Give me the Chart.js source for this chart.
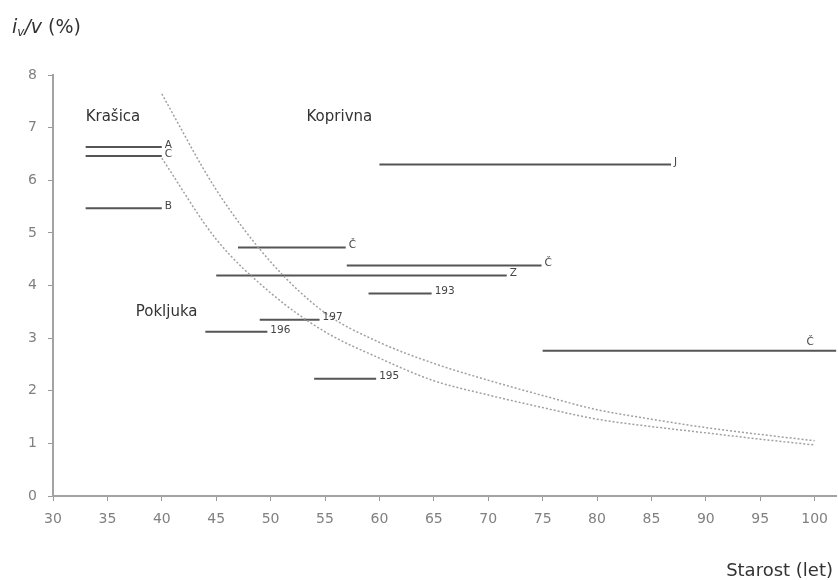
<!DOCTYPE html>
<html><head><meta charset="utf-8">
<script src="https://cdn.jsdelivr.net/npm/chart.js@4.4.1/dist/chart.umd.min.js"></script>
<style>html,body{margin:0;padding:0;background:#fff;} #wrap{width:838px;height:580px;position:relative;}</style>
</head><body><div id="wrap"><canvas id="c" width="838" height="580"></canvas></div>
<script>
// Reference curves (age, i_v/v %)
const curveAges = [40, 45, 50, 55, 60, 65, 70, 75, 80, 85, 90, 95, 100];
const upperCurve = [7.64, 5.82, 4.45, 3.48, 2.92, 2.52, 2.2, 1.91, 1.64, 1.46, 1.3, 1.17, 1.05];
const lowerCurve = [6.42, 4.88, 3.86, 3.12, 2.62, 2.19, 1.92, 1.68, 1.46, 1.32, 1.2, 1.08, 0.97];

// Stand segments (age range and increment)
const segLabels = ['A', 'C', 'B', 'J', 'Č', 'Č', 'Z', '193', 'Č', '197', '196', '195'];
const segStart  = [33, 33, 33, 60, 47, 57, 45, 59, 75, 49, 44, 54];
const segEnd    = [40, 40, 40, 86.8, 56.9, 74.9, 71.7, 64.8, 102, 54.5, 49.7, 59.7];
const segValue  = [6.63, 6.46, 5.47, 6.30, 4.72, 4.38, 4.19, 3.85, 2.76, 3.35, 3.12, 2.23];

// Region names
const regionNames = ['Krašica', 'Koprivna', 'Pokljuka'];
const regionAge   = [33, 53.3, 37.6];
const regionValue = [7.2, 7.2, 3.5];

const xMin = 30, xMax = 102, xStep = 5;
const yMin = 0, yMax = 8, yStep = 1;

const FONT = "'DejaVu Sans', Verdana, sans-serif";

const datasets = [];
[upperCurve, lowerCurve].forEach(arr => {
  datasets.push({
    data: curveAges.map((x, i) => ({x, y: arr[i]})),
    borderColor: '#a0a0a0', borderWidth: 1.5, borderDash: [2, 2],
    pointRadius: 0, showLine: true, cubicInterpolationMode: 'monotone', fill: false
  });
});
segLabels.forEach((l, i) => {
  datasets.push({
    label: l, isSeg: true,
    data: [{x: segStart[i], y: segValue[i]}, {x: segEnd[i], y: segValue[i]}],
    borderColor: '#555', borderWidth: 2, pointRadius: 0, showLine: true, fill: false
  });
});

const textPlugin = {
  id: 'texts',
  afterDatasetsDraw(chart) {
    const ctx = chart.ctx, xs = chart.scales.x, ys = chart.scales.y, ca = chart.chartArea;
    ctx.save();
    ctx.font = `10.5px ${FONT}`;
    ctx.fillStyle = '#444';
    ctx.textBaseline = 'middle';
    ctx.textAlign = 'left';
    chart.data.datasets.forEach((ds, i) => {
      if (!ds.isSeg) return;
      const p = chart.getDatasetMeta(i).data[1];
      let x = p.x + 3, y = p.y - 2;
      if (x > ca.right - 12) { x = ca.right - 30; y = p.y - 8; }
      ctx.fillText(ds.label, x, y);
    });
    ctx.font = `15px ${FONT}`;
    ctx.fillStyle = '#333';
    regionNames.forEach((n, i) => {
      ctx.fillText(n, xs.getPixelForValue(regionAge[i]), ys.getPixelForValue(regionValue[i]));
    });
    // axis titles
    ctx.fillStyle = '#333';
    ctx.textBaseline = 'alphabetic';
    let tx = 12, ty = 33;
    ctx.font = `italic 19px ${FONT}`;
    ctx.fillText('i', tx, ty); tx += ctx.measureText('i').width;
    ctx.font = `italic 12px ${FONT}`;
    ctx.fillText('v', tx, ty + 3); tx += ctx.measureText('v').width;
    ctx.font = `italic 19px ${FONT}`;
    ctx.fillText('/v', tx, ty); tx += ctx.measureText('/v').width;
    ctx.font = `19px ${FONT}`;
    ctx.fillText(' (%)', tx, ty);
    ctx.font = `18px ${FONT}`;
    ctx.textAlign = 'right';
    ctx.fillText('Starost (let)', 833, 576);
    ctx.restore();
  }
};

new Chart(document.getElementById('c'), {
  type: 'scatter',
  data: { datasets },
  options: {
    responsive: false, animation: false, devicePixelRatio: 1,
    layout: { padding: { top: 75, right: 0, left: 0, bottom: 0 } },
    plugins: { legend: { display: false }, tooltip: { enabled: false } },
    scales: {
      x: {
        type: 'linear', min: xMin, max: xMax,
        afterFit: s => { s.height = 84; },
        afterBuildTicks: s => { s.ticks = s.ticks.filter(t => t.value % xStep === 0); },
        ticks: { stepSize: xStep, includeBounds: false, padding: 10, color: '#808080', font: { family: FONT, size: 14 } },
        grid: { drawOnChartArea: false, drawTicks: true, tickLength: 5, color: '#999' },
        border: { display: true, color: '#a3a3a3', width: 2 }
      },
      y: {
        type: 'linear', min: yMin, max: yMax,
        afterFit: s => { s.width = 53; },
        ticks: { stepSize: yStep, padding: 11, color: '#808080', font: { family: FONT, size: 14 } },
        grid: { drawOnChartArea: false, drawTicks: true, tickLength: 5, color: '#999' },
        border: { display: true, color: '#a3a3a3', width: 2 }
      }
    }
  },
  plugins: [textPlugin]
});
</script>
</body></html>
